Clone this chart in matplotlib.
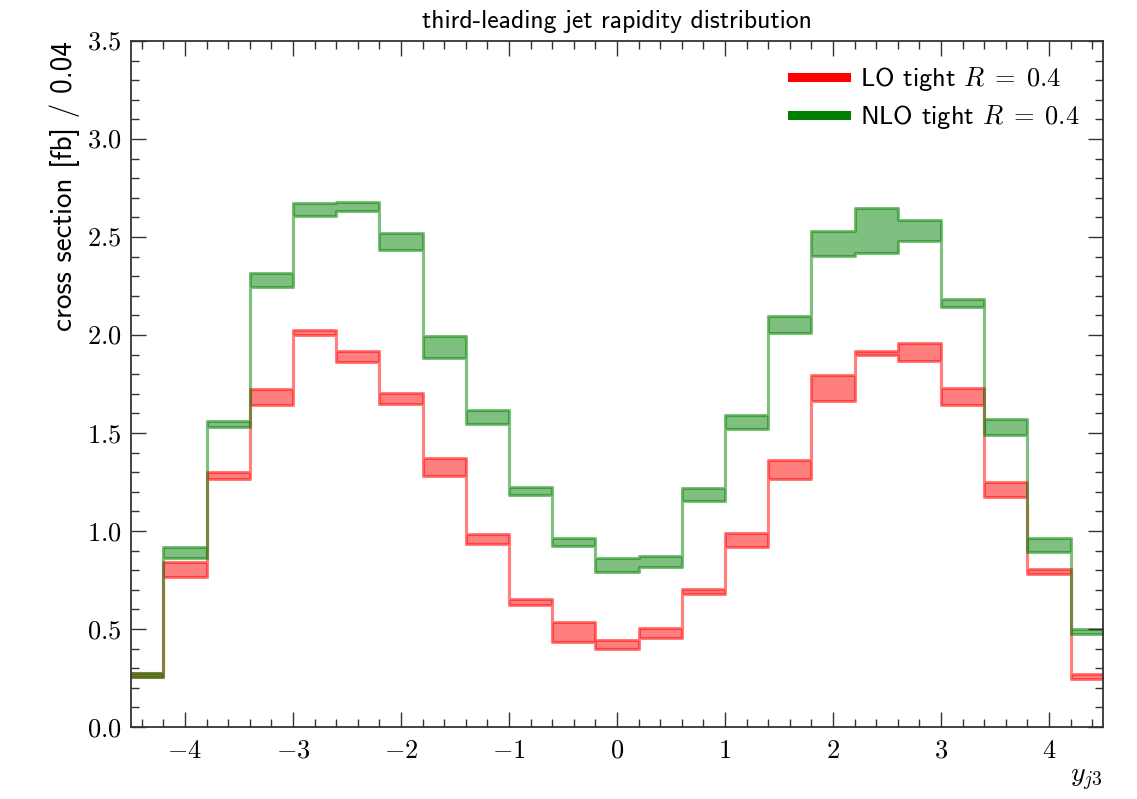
import numpy as np
import matplotlib
matplotlib.use("Agg")
import matplotlib.pyplot as plt
from matplotlib.ticker import MultipleLocator, FuncFormatter
from matplotlib.lines import Line2D

# ---- data ----
bin_edges = [-4.6, -4.2, -3.8, -3.4, -3.0, -2.6, -2.2, -1.8, -1.4, -1.0, -0.6, -0.2,
             0.2, 0.6, 1.0, 1.4, 1.8, 2.2, 2.6, 3.0, 3.4, 3.8, 4.2, 4.6]

lo_low = [0.255, 0.764, 1.263, 1.642, 2.000, 1.862, 1.650, 1.282, 0.934, 0.622, 0.435, 0.397,
          0.452, 0.677, 0.917, 1.267, 1.662, 1.900, 1.867, 1.645, 1.176, 0.779, 0.247]
lo_high = [0.275, 0.842, 1.300, 1.726, 2.028, 1.918, 1.705, 1.371, 0.984, 0.655, 0.537, 0.442,
           0.506, 0.706, 0.989, 1.364, 1.794, 1.916, 1.961, 1.731, 1.248, 0.805, 0.271]
nlo_low = [0.255, 0.864, 1.530, 2.246, 2.609, 2.634, 2.435, 1.884, 1.546, 1.185, 0.924, 0.789,
           0.817, 1.154, 1.522, 2.012, 2.401, 2.416, 2.481, 2.143, 1.492, 0.892, 0.474]
nlo_high = [0.278, 0.916, 1.560, 2.317, 2.672, 2.680, 2.519, 1.993, 1.615, 1.222, 0.962, 0.861,
            0.872, 1.217, 1.593, 2.097, 2.530, 2.647, 2.587, 2.186, 1.570, 0.962, 0.501]

labels = [r"LO tight $R\;=\;0.4$", r"NLO tight $R\;=\;0.4$"]
colors = ["red", "green"]
title = "third-leading jet rapidity distribution"
ylabel = "cross section [fb] / 0.04"
xlabel = r"$y_{j3}$"

# ---- style ----
plt.rcParams["mathtext.fontset"] = "cm"
plt.rcParams["font.family"] = ["cmss10", "DejaVu Sans"]
plt.rcParams["axes.unicode_minus"] = False
plt.rcParams["axes.formatter.use_mathtext"] = True

fig = plt.figure(figsize=(11.37, 7.99), dpi=100)
ax = fig.add_axes([0.1152, 0.0901, 0.8549, 0.8586])

edges = np.array(bin_edges)
series = [(lo_low, lo_high), (nlo_low, nlo_high)]
for (lo, hi), c in zip(series, colors):
    lo_ext = list(lo) + [lo[-1]]
    hi_ext = list(hi) + [hi[-1]]
    ax.fill_between(edges, lo_ext, hi_ext, step="post", facecolor=c,
                    edgecolor=c, alpha=0.5, linewidth=2.2)

ax.set_xlim(-4.5, 4.5)
ax.set_ylim(0.0, 3.5)

ax.xaxis.set_major_locator(MultipleLocator(1.0))
ax.xaxis.set_minor_locator(MultipleLocator(0.2))
ax.yaxis.set_major_locator(MultipleLocator(0.5))
ax.yaxis.set_minor_locator(MultipleLocator(0.1))
ax.xaxis.set_major_formatter(FuncFormatter(lambda v, p: r"$%d$" % round(v)))
ax.yaxis.set_major_formatter(FuncFormatter(lambda v, p: r"$%.1f$" % v))

ax.tick_params(which="both", direction="in", top=True, right=True, width=1.0,
               color="#333333")
ax.tick_params(which="major", length=11, labelsize=19, pad=7)
ax.tick_params(which="minor", length=5.5)
ax.tick_params(axis="x", which="major", pad=9)
for s in ax.spines.values():
    s.set_linewidth(1.3)
    s.set_color("#333333")

ax.set_title(title, fontsize=18.5, pad=9)
ax.set_ylabel(ylabel, fontsize=21, loc="top", labelpad=5)
ax.set_xlabel(xlabel, fontsize=20, loc="right", labelpad=4)

handles = [Line2D([0], [0], color=c, lw=6.5) for c in colors]
ax.legend(handles, labels, loc="upper right", frameon=False, fontsize=19,
          handlelength=2.05, handletextpad=0.5, labelspacing=0.4,
          borderaxespad=0.5)

fig.savefig("out.png", dpi=100)
